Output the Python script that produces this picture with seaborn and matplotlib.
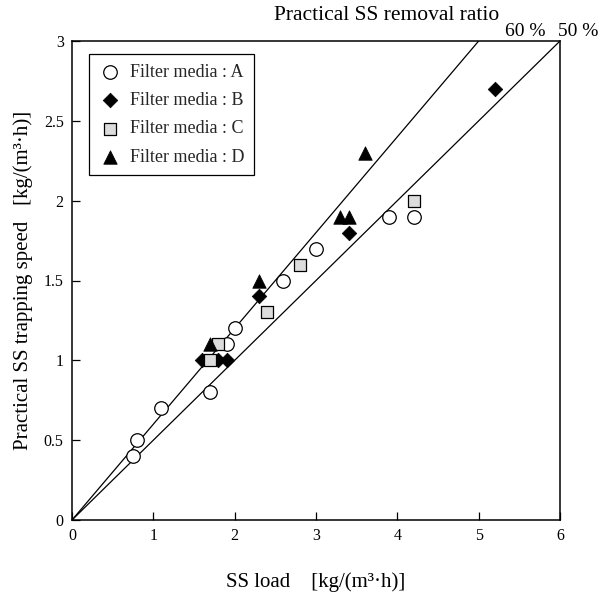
import matplotlib
matplotlib.use("Agg")
import matplotlib.pyplot as plt
import seaborn as sns
import pandas as pd

sns.set_theme(style="white")
plt.rcParams["font.family"] = ["Liberation Serif", "DejaVu Serif"]

# SS load [kg/(m3 h)] and practical SS trapping speed [kg/(m3 h)] per filter media
a_load = [0.75, 0.8, 1.1, 1.7, 1.9, 2.0, 2.6, 3.0, 3.9, 4.2]
a_trap = [0.4, 0.5, 0.7, 0.8, 1.1, 1.2, 1.5, 1.7, 1.9, 1.9]
b_load = [1.6, 1.8, 1.9, 2.3, 3.4, 5.2]
b_trap = [1.0, 1.0, 1.0, 1.4, 1.8, 2.7]
c_load = [1.7, 1.8, 2.4, 2.8, 4.2]
c_trap = [1.0, 1.1, 1.3, 1.6, 2.0]
d_load = [1.7, 2.3, 3.3, 3.4, 3.6]
d_trap = [1.1, 1.5, 1.9, 1.9, 2.3]

media_names = ["Filter media : A", "Filter media : B", "Filter media : C", "Filter media : D"]

# Removal-ratio reference lines
ratio_values = [0.6, 0.5]
ratio_labels = ["60 %", "50 %"]
ratio_x_end = [5.0, 6.0]

x_ticks = [0, 1, 2, 3, 4, 5, 6]
y_ticks = [0, 0.5, 1, 1.5, 2, 2.5, 3]
y_tick_labels = ["0", "0.5", "1", "1.5", "2", "2.5", "3"]

fig = plt.figure(figsize=(6.0, 5.92), dpi=100)
ax = fig.add_axes([72 / 600, 1 - 520 / 592, 488 / 600, 479 / 592])

for r, xe in zip(ratio_values, ratio_x_end):
    line_df = pd.DataFrame({"x": [0.0, xe], "y": [0.0, r * xe]})
    sns.lineplot(data=line_df, x="x", y="y", ax=ax, color="black", linewidth=0.9, zorder=2)

styles = [
    dict(marker="o", s=95, facecolor="white", edgecolor="black", linewidth=0.9),
    dict(marker="D", s=55, facecolor="black", edgecolor="black", linewidth=0.5),
    dict(marker="s", s=85, facecolor="#dcdcdc", edgecolor="black", linewidth=0.9),
    dict(marker="^", s=95, facecolor="black", edgecolor="black", linewidth=0.5),
]
series = [(a_load, a_trap), (b_load, b_trap), (c_load, c_trap), (d_load, d_trap)]

for (xs, ys), name, st in zip(series, media_names, styles):
    df = pd.DataFrame({"load": xs, "trap": ys})
    sns.scatterplot(data=df, x="load", y="trap", ax=ax, label=name, zorder=3, **st)

ax.set_xlim(0, 6)
ax.set_ylim(0, 3)
ax.set_xticks(x_ticks)
ax.set_xticklabels([str(t) for t in x_ticks])
ax.set_yticks(y_ticks)
ax.set_yticklabels(y_tick_labels)
ax.tick_params(axis="both", direction="in", length=6, width=0.9, labelsize=11.5,
               colors="black", bottom=True, left=True, top=False, right=False, pad=6)
for sp in ax.spines.values():
    sp.set_color("black")
    sp.set_linewidth(1.1)

ax.set_xlabel("SS load    [kg/(m³·h)]", fontsize=15, labelpad=20, color="black")
ax.set_ylabel("Practical SS trapping speed   [kg/(m³·h)]", fontsize=15, labelpad=8, color="black")

leg = ax.legend(loc="upper left", bbox_to_anchor=(17 / 488, 1 - 13 / 479), borderaxespad=0,
                fontsize=13, frameon=True, fancybox=False, edgecolor="black", framealpha=1,
                handletextpad=0.5, borderpad=0.55, labelspacing=0.62, handlelength=1.2)
leg.get_frame().set_linewidth(0.9)

fig.text(387 / 600, 1 - 15 / 592, "Practical SS removal ratio", ha="center", va="center",
         fontsize=15.5, color="black")
for lab, r, xe in zip(ratio_labels, ratio_values, ratio_x_end):
    px = 72 + xe / 6 * 488
    fig.text((px + 47 if xe < 6 else px + 18) / 600, 1 - 31 / 592, lab, ha="center",
             va="center", fontsize=14, color="black")

fig.savefig("out.png", dpi=100)
